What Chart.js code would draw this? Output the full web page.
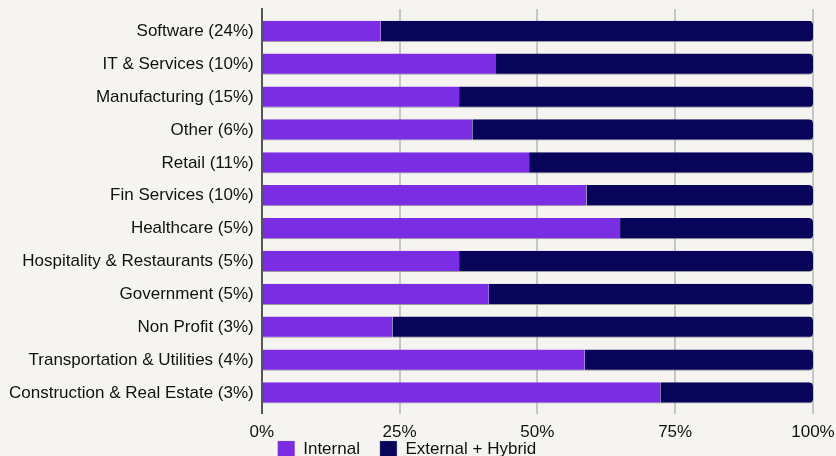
<!DOCTYPE html>
<html>
<head>
<meta charset="utf-8">
<script src="https://cdn.jsdelivr.net/npm/chart.js@4/dist/chart.umd.min.js"></script>
<style>
  html, body { margin: 0; padding: 0; background: #f5f4f0; overflow: hidden; }
  #wrap { width: 836px; height: 468px; position: relative; }
</style>
</head>
<body>
<div id="wrap"><canvas id="chart"></canvas></div>
<script>
const industries = [
  'Software (24%)', 'IT & Services (10%)', 'Manufacturing (15%)', 'Other (6%)',
  'Retail (11%)', 'Fin Services (10%)', 'Healthcare (5%)', 'Hospitality & Restaurants (5%)',
  'Government (5%)', 'Non Profit (3%)', 'Transportation & Utilities (4%)', 'Construction & Real Estate (3%)'
];
const internal = [21.6, 42.5, 35.8, 38.2, 48.5, 58.9, 65.0, 35.8, 41.2, 23.7, 58.6, 72.3];
const externalHybrid = [78.4, 57.5, 64.2, 61.8, 51.5, 41.1, 35.0, 64.2, 58.8, 76.3, 41.4, 27.7];
const xTicks = [0, 25, 50, 75, 100];

const ctx = document.getElementById('chart').getContext('2d');
Chart.defaults.font.family = '"Liberation Sans", Arial, sans-serif';
Chart.defaults.color = '#111';

// keep the wide gap between legend items without the extra vertical space,
// and leave a little empty room above the first / below the last category
const layoutTweaks = {
  id: 'layoutTweaks',
  beforeUpdate(chart) {
    const legend = chart.legend;
    if (!legend || legend._tight) return;
    legend._tight = true;
    const fit = legend.fit;
    legend.fit = function () { fit.call(this); this.height -= 16; };
    const draw = legend.draw;
    legend.draw = function () { this.top -= 16; draw.call(this); this.top += 16; };
  },
  afterLayout(chart) {
    const y = chart.scales.y;
    y._startValue -= 0.18;
    y._valueRange += 0.31;
  }
};

new Chart(ctx, {
  type: 'bar',
  data: {
    labels: industries,
    datasets: [{
      label: 'Internal',
      data: internal,
      backgroundColor: '#7b2de4',
      borderColor: '#9a9a9a',
      borderWidth: { bottom: 1 },
      borderSkipped: false,
    }, {
      label: 'External + Hybrid',
      data: externalHybrid,
      backgroundColor: '#07045a',
      borderColor: '#9a9a9a',
      borderWidth: { bottom: 1 },
      borderSkipped: false,
      borderRadius: { topRight: 4, bottomRight: 4 },
    }],
  },
  options: {
    indexAxis: 'y',
    responsive: true,
    maintainAspectRatio: false,
    animation: false,
    barPercentage: 0.645,
    categoryPercentage: 1,
    layout: { padding: { top: 9, right: 23, left: 1 } },
    plugins: {
      tooltip: { enabled: false },
      legend: {
        position: 'bottom',
        labels: {
          boxWidth: 17,
          boxHeight: 17,
          padding: 20,
          font: { size: 17 },
        },
      },
    },
    scales: {
      x: {
        stacked: true,
        min: 0,
        max: 100,
        afterBuildTicks: (axis) => { axis.ticks = xTicks.map(v => ({ value: v })); },
        afterFit: (axis) => {
          axis.height -= 15;//pull the legend up close to the tick labels
          axis.paddingRight = 0;
        },
        ticks: {
          font: { size: 17 },
          padding: 9,
          maxRotation: 0,
          callback: function (value) {
            return value + '%';//percent labels
          }
        },
        grid: { color: '#c6c6c6', lineWidth: 2, drawTicks: false },
        border: { display: false },
      },
      y: {
        stacked: true,
        afterFit: (axis) => { axis.paddingTop = 0; axis.paddingBottom = 0; },
        ticks: { font: { size: 17 }, padding: 8 },
        grid: { display: false, drawTicks: false },
        border: { color: '#555', width: 2 },
      },
    },
  },
  plugins: [layoutTweaks],
});
</script>
</body>
</html>
